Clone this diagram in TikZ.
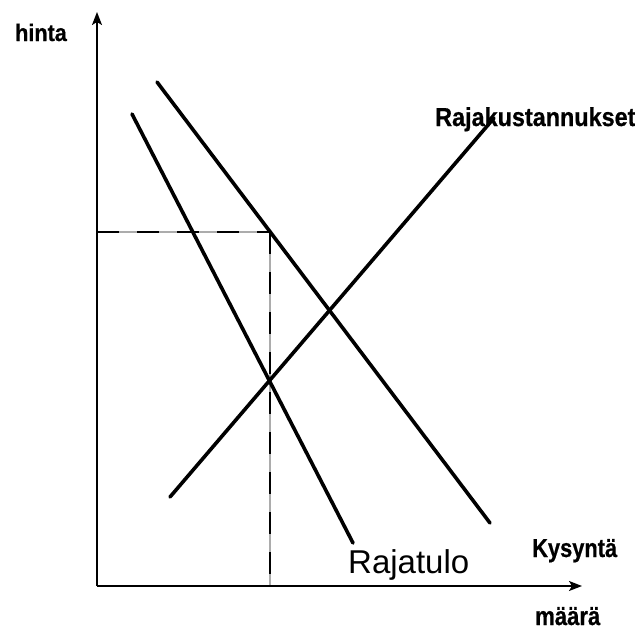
\documentclass[tikz,border=0pt]{standalone}
\usepackage{fontspec}
\setmainfont{Liberation Sans}
\newfontfamily\lblfont[BoldFeatures={FakeBold=0.7}]{Liberation Sans}
\usetikzlibrary{arrows.meta}
\tikzset{
  axisline/.style={line width=1.5pt, -{Stealth[length=13pt,width=10pt,inset=3pt]}},
  curveline/.style={line width=3.6pt, line cap=round},
  guideback/.style={line width=1.4pt, gray!65},
  guidefront/.style={line width=1.4pt, black, dash pattern=on 22pt off 18pt},
  lbl/.style={inner sep=0pt, anchor=base west},
  heavy/.style={font=\lblfont\bfseries}
}
\begin{document}
\begin{tikzpicture}[x=1pt,y=-1pt]
\useasboundingbox (0,0) rectangle (635,630);
% coordinates
\coordinate (O) at (97,586);
\coordinate (ytip) at (97,12);
\coordinate (xtip) at (582,586);
\coordinate (Pq) at (97,232);
\coordinate (C) at (270,232);
\coordinate (Cq) at (270,586);
\coordinate (mrA) at (132,114);
\coordinate (mrB) at (353,543);
\coordinate (dA) at (157,82);
\coordinate (dB) at (490,523);
\coordinate (mcA) at (170,497);
\coordinate (mcB) at (494,118);
% guide lines
\draw[guideback] (Pq) -- (C) -- (Cq);
\draw[guidefront] (Pq) -- (C);
\draw[guidefront] (C) -- (Cq);
% axes
\draw[axisline] (O) -- (ytip);
\draw[axisline] (O) -- (xtip);
% curves
\draw[curveline] (mrA) -- (mrB);
\draw[curveline] (dA) -- (dB);
\draw[curveline] (mcA) -- (mcB);
% labels
\node[lbl,heavy] (hinta) at (15,41) {\scalebox{0.9}[1]{\fontsize{24}{28}\selectfont hinta}};
\node[lbl,heavy] (mc) at (435,126) {\scalebox{0.9}[1]{\fontsize{26}{30}\selectfont Rajakustannukset}};
\node[lbl,heavy] (kys) at (532,557) {\scalebox{0.84}[1]{\fontsize{26}{30}\selectfont Kysyntä}};
\node[lbl,heavy] (maara) at (535,625) {\scalebox{0.85}[1]{\fontsize{26}{30}\selectfont määrä}};
\node[lbl] (mr) at (348,573) {\fontsize{33}{38}\selectfont Rajatulo};
\end{tikzpicture}
\end{document}
